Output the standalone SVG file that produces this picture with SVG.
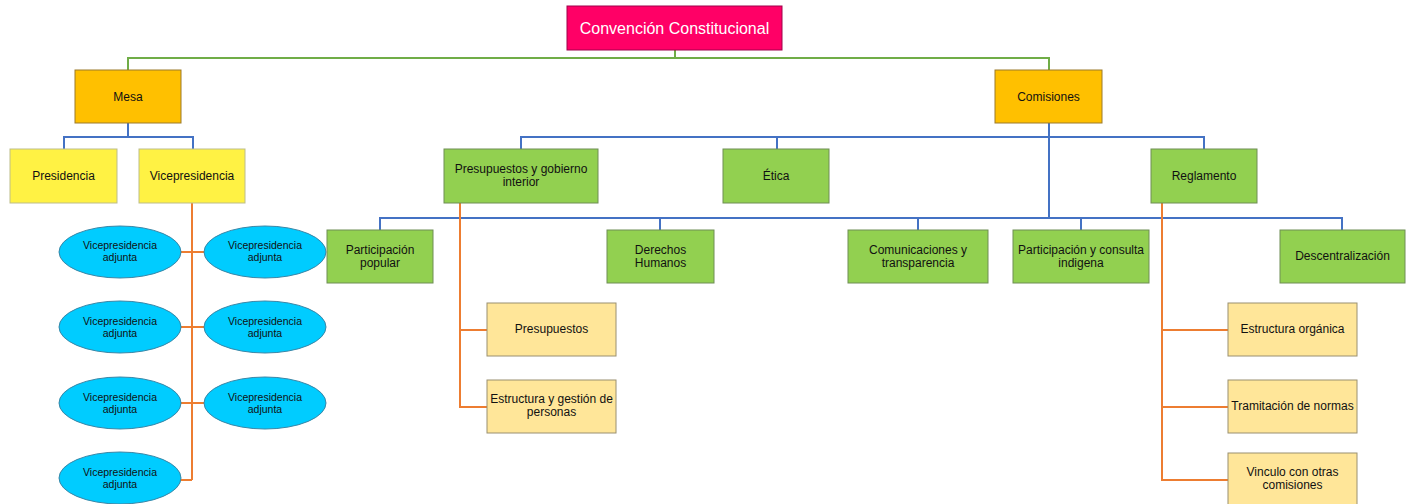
<svg xmlns="http://www.w3.org/2000/svg" width="1408" height="504" viewBox="0 0 1408 504">
<style>
text{font-family:"Liberation Sans",Arial,sans-serif;font-size:12px;fill:#111;text-anchor:middle}
.title{font-size:16px;fill:#fff}
.el{font-size:10.5px}
.top{fill:#FF0066;stroke:#A0004A;stroke-width:1}
.org{fill:#FFC000;stroke:#9C7A2A;stroke-width:1}
.yel{fill:#FFF244;stroke:#BDBD8A;stroke-width:1}
.grn{fill:#92D050;stroke:#6E8E55;stroke-width:1}
.tan{fill:#FFE699;stroke:#9A9070;stroke-width:1}
.ell{fill:#00CCFF;stroke:#3A86A6;stroke-width:1}
.cg{fill:none;stroke:#70AD47;stroke-width:2}
.cb{fill:none;stroke:#4472C4;stroke-width:2}
.co{fill:none;stroke:#ED7D31;stroke-width:2}
</style>
<rect width="1408" height="504" fill="#fff"/>
<g id="connectors">
<path class="cg" d="M675,50V58M128,70V58H1049V70"/>
<path class="cb" d="M128,123V137M64,149V137H193V149"/>
<path class="cb" d="M1049,123V218M521,149V137H1204V149M777,137V149"/>
<path class="cb" d="M380,230V218H1342V230M660,218V230M918,218V230M1081,218V230"/>
<path class="co" d="M192,203V480M181,252H204M181,327H204M181,403H204M181,480H192"/>
<path class="co" d="M460,203V407H487M460,330H487"/>
<path class="co" d="M1162,203V480H1228M1162,330H1228M1162,407H1228"/>
</g>
<g id="n-convencion"><rect class="top" x="567" y="6" width="215" height="44"/><text class="title" x="674.5" y="33.5">Convención Constitucional</text></g>
<g id="n-mesa"><rect class="org" x="75" y="70" width="106" height="53"/><text x="128" y="101">Mesa</text></g>
<g id="n-comisiones"><rect class="org" x="995" y="70" width="107" height="53"/><text x="1048.5" y="101">Comisiones</text></g>
<g id="n-presidencia"><rect class="yel" x="10" y="149" width="107" height="54"/><text x="63.5" y="180">Presidencia</text></g>
<g id="n-vicepresidencia"><rect class="yel" x="139" y="149" width="106" height="54"/><text x="192" y="180">Vicepresidencia</text></g>
<g id="n-vpa1"><ellipse class="ell" cx="120" cy="252" rx="61" ry="26"/><text class="el" x="120" y="249">Vicepresidencia</text><text class="el" x="120" y="261">adjunta</text></g>
<g id="n-vpa2"><ellipse class="ell" cx="265" cy="252" rx="61" ry="26"/><text class="el" x="265" y="249">Vicepresidencia</text><text class="el" x="265" y="261">adjunta</text></g>
<g id="n-vpa3"><ellipse class="ell" cx="120" cy="327" rx="61" ry="26"/><text class="el" x="120" y="325">Vicepresidencia</text><text class="el" x="120" y="337">adjunta</text></g>
<g id="n-vpa4"><ellipse class="ell" cx="265" cy="327" rx="61" ry="26"/><text class="el" x="265" y="325">Vicepresidencia</text><text class="el" x="265" y="337">adjunta</text></g>
<g id="n-vpa5"><ellipse class="ell" cx="120" cy="403" rx="61" ry="26"/><text class="el" x="120" y="401">Vicepresidencia</text><text class="el" x="120" y="413">adjunta</text></g>
<g id="n-vpa6"><ellipse class="ell" cx="265" cy="403" rx="61" ry="26"/><text class="el" x="265" y="401">Vicepresidencia</text><text class="el" x="265" y="413">adjunta</text></g>
<g id="n-vpa7"><ellipse class="ell" cx="120" cy="478" rx="61" ry="26"/><text class="el" x="120" y="476">Vicepresidencia</text><text class="el" x="120" y="488">adjunta</text></g>
<g id="n-presupuestos-gobierno"><rect class="grn" x="444" y="149" width="154" height="54"/><text x="521" y="173">Presupuestos  y gobierno</text><text x="521" y="186">interior</text></g>
<g id="n-etica"><rect class="grn" x="723" y="149" width="106" height="54"/><text x="776" y="180">Ética</text></g>
<g id="n-reglamento"><rect class="grn" x="1151" y="149" width="106" height="54"/><text x="1204" y="180">Reglamento</text></g>
<g id="n-participacion-popular"><rect class="grn" x="327" y="230" width="106" height="53"/><text x="380" y="254">Participación</text><text x="380" y="267">popular</text></g>
<g id="n-derechos"><rect class="grn" x="607" y="230" width="107" height="53"/><text x="660.5" y="254">Derechos</text><text x="660.5" y="267">Humanos</text></g>
<g id="n-comunicaciones"><rect class="grn" x="848" y="230" width="140" height="53"/><text x="918" y="254">Comunicaciones  y</text><text x="918" y="267">transparencia</text></g>
<g id="n-consulta"><rect class="grn" x="1013" y="230" width="136" height="53"/><text x="1081" y="254">Participación  y consulta</text><text x="1081" y="267">indigena</text></g>
<g id="n-descentralizacion"><rect class="grn" x="1280" y="230" width="125" height="53"/><text x="1342.5" y="260">Descentralización</text></g>
<g id="n-presupuestos"><rect class="tan" x="487" y="303" width="129" height="53"/><text x="551.5" y="333">Presupuestos</text></g>
<g id="n-estructura-gestion"><rect class="tan" x="487" y="380" width="129" height="53"/><text x="551.5" y="403">Estructura  y gestión  de</text><text x="551.5" y="416">personas</text></g>
<g id="n-estructura-organica"><rect class="tan" x="1228" y="303" width="129" height="53"/><text x="1292.5" y="333">Estructura  orgánica</text></g>
<g id="n-tramitacion"><rect class="tan" x="1228" y="380" width="129" height="53"/><text x="1292.5" y="410">Tramitación  de normas</text></g>
<g id="n-vinculo"><rect class="tan" x="1228" y="453" width="129" height="55"/><text x="1292.5" y="476">Vinculo con otras</text><text x="1292.5" y="489">comisiones</text></g>
</svg>
